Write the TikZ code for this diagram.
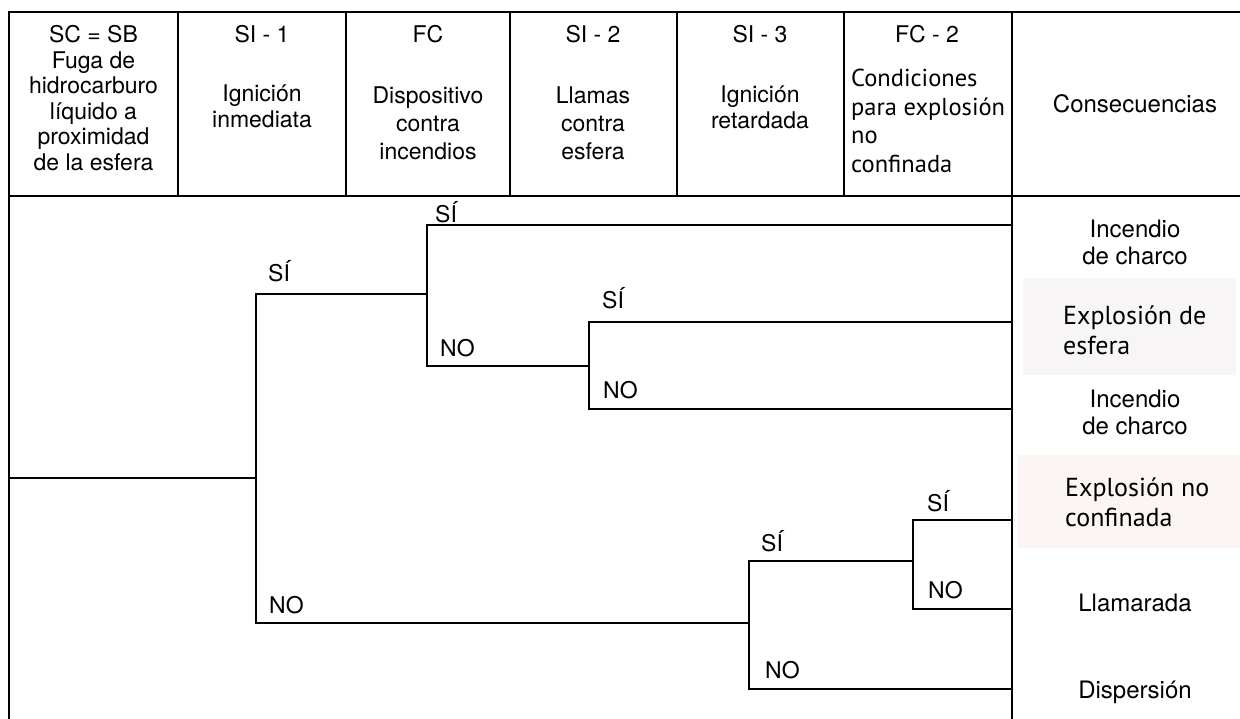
\documentclass[tikz,border=0pt]{standalone}
\usepackage{fontspec}
\setmainfont{TeX Gyre Heros}
\newfontfamily\hum{PT Sans}
\begin{document}
\begin{tikzpicture}[x=1pt,y=-1pt,
  frame/.style={line width=2.8pt},
  sep/.style={line width=2.2pt},
  branch/.style={line width=2.5pt, line join=miter},
  hdr/.style={anchor=base, align=center, inner sep=0pt, font=\fontsize{23}{25.5}\selectfont},
  lbl/.style={anchor=base west, inner sep=0pt, font=\fontsize{23}{25}\selectfont},
  cons/.style={align=center, inner sep=0pt, font=\fontsize{24}{27}\selectfont},
  consh/.style={anchor=west, align=left, inner sep=0pt, font=\hum\fontsize{26}{30}\selectfont},
]
\useasboundingbox (0,0) rectangle (1240,719);
\definecolor{tintA}{HTML}{F7F5F5}
\definecolor{tintB}{HTML}{FBF6F4}
% faint pasted backgrounds
\fill[tintA] (1023,278) rectangle (1236,375);
\fill[tintB] (1018,455) rectangle (1240,548);
% frame and header grid
\draw[frame] (1240,12) -- (9,12) -- (9,719);
\draw[sep] (9,196) -- (1240,196);
\foreach \xx in {178,346,510,677,844} \draw[sep] (\xx,12) -- (\xx,196);
\draw[frame] (1012,12) -- (1012,719);
% header texts (multi-line nodes: base = last line's baseline)
\node[hdr] (h1) at (93.5,170.5) {SC = SB\\Fuga de\\hidrocarburo\\líquido a\\proximidad\\de la esfera};
\node[hdr] (h2a) at (262,43) {SI - 1};
\node[hdr] (h2b) at (262,127.5) {Ignición\\inmediata};
\node[hdr] (h3a) at (428,43) {FC};
\node[hdr, font=\fontsize{23}{28}\selectfont] (h3b) at (428,160) {Dispositivo\\contra\\incendios};
\node[hdr] (h4a) at (593,43) {SI - 2};
\node[hdr, font=\fontsize{23}{28}\selectfont] (h4b) at (593,160) {Llamas\\contra\\esfera};
\node[hdr] (h5a) at (760,43) {SI - 3};
\node[hdr] (h5b) at (760,128.5) {Ignición\\retardada};
\node[hdr] (h6a) at (927,43) {FC - 2};
\node[anchor=base west, align=left, inner sep=0pt, font=\hum\fontsize{24.5}{28.5}\selectfont] (h6b) at (851,172.5) {Condiciones\\para explosión\\no\\confinada};
\node[hdr, font=\fontsize{24}{27}\selectfont] (h7) at (1135,113) {Consecuencias};
% tree coordinates
\coordinate (r0) at (9,478);
\coordinate (n1) at (256,478);
\coordinate (n2) at (427,294);
\coordinate (n3) at (589,366);
\coordinate (n4) at (749,623);
\coordinate (n5) at (913,561);
\coordinate (e1) at (1012,225);
\coordinate (e2) at (1012,322);
\coordinate (e3) at (1012,409);
\coordinate (e4) at (1012,520);
\coordinate (e5) at (1012,609);
\coordinate (e6) at (1012,689);
% branches
\draw[branch] (r0) -- (n1);
\draw[branch] (n1) |- (n2);
\draw[branch] (n1) |- (n4);
\draw[branch] (n2) |- (e1);
\draw[branch] (n2) |- (n3);
\draw[branch] (n3) |- (e2);
\draw[branch] (n3) |- (e3);
\draw[branch] (n4) |- (n5);
\draw[branch] (n4) |- (e6);
\draw[branch] (n5) |- (e4);
\draw[branch] (n5) |- (e5);
% branch labels
\node[lbl] (l1s) at (268,282) {SÍ};
\node[lbl] (l1n) at (269,613) {NO};
\node[lbl] (l2s) at (435,223) {SÍ};
\node[lbl] (l2n) at (440,357) {NO};
\node[lbl] (l3s) at (602,309) {SÍ};
\node[lbl] (l3n) at (603,399) {NO};
\node[lbl] (l4s) at (761,551) {SÍ};
\node[lbl] (l4n) at (765,678) {NO};
\node[lbl] (l5s) at (927,511) {SÍ};
\node[lbl] (l5n) at (928,598) {NO};
% consequences
\node[cons] (c1) at (1135,242) {Incendio\\de charco};
\node[consh] (c2) at (1063,330) {Explosión de\\esfera};
\node[cons] (c3) at (1135,412) {Incendio\\de charco};
\node[consh] (c4) at (1065,502) {Explosión no\\confinada};
\node[cons] (c5) at (1135,603) {Llamarada};
\node[cons] (c6) at (1135,692) {Dispersión};
\end{tikzpicture}
\end{document}
